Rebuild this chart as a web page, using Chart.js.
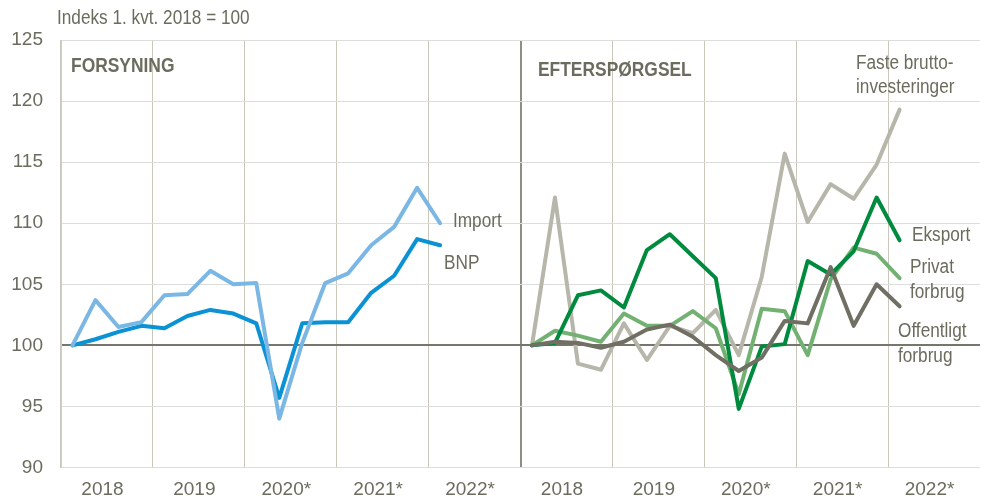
<!DOCTYPE html>
<html>
<head>
<meta charset="utf-8">
<script src="https://cdn.jsdelivr.net/npm/chart.js@4/dist/chart.umd.min.js"></script>
<style>
  html, body { margin: 0; padding: 0; background: #fff; }
  #wrap { width: 985px; height: 501px; }
</style>
</head>
<body>
<div id="wrap"><canvas id="myChart" width="985" height="501"></canvas></div>
<script>
// Kvartaler: to paneler med hver 5 år (2018-2022)
const years = ["2018", "2019", "2020*", "2021*", "2022*"];
const yTicks = [90, 95, 100, 105, 110, 115, 120, 125];

// Forsyning (1. kvt. 2018 - 1. kvt. 2022)
const importData = [100, 103.7, 101.5, 101.9, 104.1, 104.2, 106.1, 105.0, 105.1, 94.0, 100.2, 105.1, 105.9, 108.2, 109.7, 112.9, 110.0];
const bnpData = [100, 100.5, 101.1, 101.6, 101.4, 102.4, 102.9, 102.6, 101.8, 95.7, 101.8, 101.9, 101.9, 104.3, 105.7, 108.7, 108.2];

// Efterspørgsel (1. kvt. 2018 - 1. kvt. 2022)
const fasteData = [100, 112.1, 98.5, 98.0, 101.8, 98.8, 101.6, 101.0, 102.9, 99.2, 105.6, 115.7, 110.1, 113.2, 112.0, 114.8, 119.3];
const eksportData = [100, 100.2, 104.1, 104.5, 103.1, 107.8, 109.1, 107.3, 105.5, 94.8, 99.9, 100.1, 106.9, 105.8, 107.7, 112.1, 108.6];
const privatData = [100, 101.2, 100.8, 100.3, 102.6, 101.6, 101.6, 102.8, 101.4, 96.0, 103.0, 102.8, 99.2, 105.4, 108.0, 107.5, 105.5];
const offentligData = [100, 100.3, 100.2, 99.8, 100.3, 101.3, 101.7, 100.7, 99.2, 97.9, 99.0, 102.0, 101.8, 106.4, 101.6, 105.0, 103.2];

const textColor = "#6b6b5e";
const fontFam = "'Liberation Sans', Arial, sans-serif";

// 40 kategorier: 20 kvartaler i hvert panel
const labels = [];
for (let p = 0; p < 2; p++) {
  years.forEach((y) => {
    for (let q = 1; q <= 4; q++) labels.push(y + " K" + q);
  });
}

// Fylder op med null så serien kun ligger i sit eget panel
function panel(values, side) {
  const out = new Array(40).fill(null);
  values.forEach((v, i) => {
    out[side * 20 + i] = v;
  });
  return out;
}

function line(label, data, color) {
  return {
    label: label,
    data: data,
    borderColor: color,
    backgroundColor: color,
    borderWidth: 4,
    pointRadius: 0,
    tension: 0,
    spanGaps: false,
    borderJoinStyle: "round",
    borderCapStyle: "round",
  };
}

// Smal tekst (der er ingen "narrow" skrift, så vi presser den vandret)
function narrowText(ctx, text, x, y, sx) {
  ctx.save();
  ctx.translate(x, y);
  ctx.scale(sx, 1);
  ctx.fillText(text, 0, 0);
  ctx.restore();
}

// Tekster i diagrammet (paneltitler og serienavne)
const textPlugin = {
  id: "texts",
  afterDraw(chart) {
    const ctx = chart.ctx;
    ctx.save();
    ctx.fillStyle = textColor;
    ctx.textBaseline = "middle";
    ctx.textAlign = "left";
    ctx.font = "20px " + fontFam;
    narrowText(ctx, "Indeks 1. kvt. 2018 = 100", 57, 18, 0.86);
    ctx.font = "bold 20px " + fontFam;
    narrowText(ctx, "FORSYNING", 71, 66, 0.87);
    narrowText(ctx, "EFTERSPØRGSEL", 538, 70, 0.87);
    ctx.font = "20px " + fontFam;
    narrowText(ctx, "Import", 453, 221, 0.86);
    narrowText(ctx, "BNP", 444, 263, 0.86);
    narrowText(ctx, "Faste brutto-", 856, 63, 0.86);
    narrowText(ctx, "investeringer", 856, 87, 0.86);
    narrowText(ctx, "Eksport", 912, 235, 0.86);
    narrowText(ctx, "Privat", 910, 267, 0.86);
    narrowText(ctx, "forbrug", 910, 292, 0.86);
    narrowText(ctx, "Offentligt", 898, 331, 0.86);
    narrowText(ctx, "forbrug", 898, 356, 0.86);
    ctx.restore();
  },
};

const ctx = document.getElementById("myChart").getContext("2d");
const myChart = new Chart(ctx, {
  type: "line",
  data: {
    labels: labels,
    datasets: [
      line("Import", panel(importData, 0), "#7ab7e5"),
      line("BNP", panel(bnpData, 0), "#0a92d4"),
      line("Offentligt forbrug", panel(offentligData, 1), "#716f63"),
      line("Eksport", panel(eksportData, 1), "#008a3e"),
      line("Privat forbrug", panel(privatData, 1), "#72b172"),
      line("Faste bruttoinvesteringer", panel(fasteData, 1), "#b7b6aa"),
    ],
  },
  options: {
    responsive: false,
    animation: false,
    layout: { padding: { top: 40, right: 5, left: 0, bottom: 0 } },
    plugins: {
      legend: { display: false },
      tooltip: { enabled: false },
    },
    scales: {
      x: {
        offset: true,
        afterFit: (scale) => {
          scale.height = 33.5;
        },
        grid: {
          offset: true,
          drawTicks: false,
          lineWidth: (c) => (c.index === 20 ? 2 : 1),
          color: (c) => {
            if (c.index === 20) return "#8f8e82";
            return c.index % 4 === 0 ? "#c9c8bb" : "rgba(0,0,0,0)";
          },
        },
        border: { display: false },
        ticks: {
          autoSkip: false,
          maxRotation: 0,
          minRotation: 0,
          padding: 11,
          labelOffset: 7,
          color: textColor,
          font: { size: 19, family: fontFam },
          callback: (v, i) => (i % 4 === 1 ? years[Math.floor((i % 20) / 4)] : ""),
        },
      },
      y: {
        min: 90,
        max: 125,
        afterBuildTicks: (scale) => {
          scale.ticks = yTicks.map((v) => ({ value: v }));
        },
        afterFit: (scale) => {
          scale.width = 61;
        },
        grid: {
          drawTicks: false,
          color: (c) => (c.tick && c.tick.value === 100 ? "#77766a" : "#dddddd"),
          lineWidth: (c) => (c.tick && c.tick.value === 100 ? 2 : 1),
        },
        border: { display: true, color: "#cfcfc6", width: 1 },
        ticks: {
          padding: 18,
          color: textColor,
          font: { size: 19, family: fontFam },
        },
      },
    },
  },
  plugins: [textPlugin],
});
</script>
</body>
</html>
